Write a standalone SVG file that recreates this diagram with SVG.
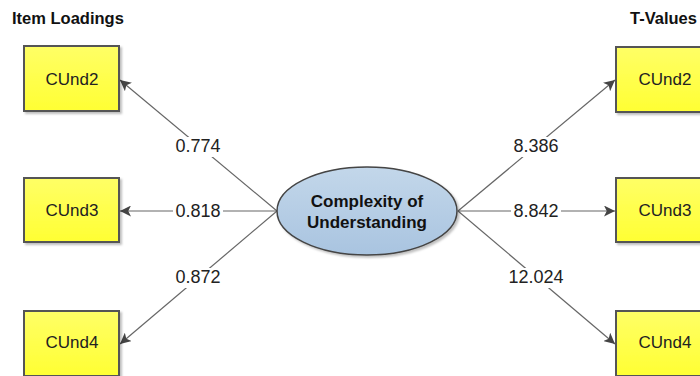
<svg xmlns="http://www.w3.org/2000/svg" width="700" height="376" viewBox="0 0 700 376">
  <defs>
    <linearGradient id="boxFill" x1="0" y1="0" x2="0" y2="1">
      <stop offset="0" stop-color="#ffff66"/>
      <stop offset="1" stop-color="#ffff33"/>
    </linearGradient>
    <linearGradient id="latentFill" x1="0" y1="0" x2="0" y2="1">
      <stop offset="0" stop-color="#c3d7ea"/>
      <stop offset="1" stop-color="#a9c4e0"/>
    </linearGradient>
    <filter id="shadow" x="-10%" y="-10%" width="130%" height="130%">
      <feDropShadow dx="2" dy="2" stdDeviation="1.2" flood-color="#000" flood-opacity="0.25"/>
    </filter>
    <marker id="arrow" viewBox="0 0 10 10" refX="10" refY="5" markerWidth="11" markerHeight="11" markerUnits="userSpaceOnUse" orient="auto">
      <path d="M0,0 L10,5 L0,10 L2.5,5 Z" fill="#444"/>
    </marker>
  </defs>
  <style>
    .title { font-family: "Liberation Sans", Arial, sans-serif; font-weight: bold; font-size: 16.5px; fill: #111; }
    .box { fill: url(#boxFill); stroke: #555; stroke-width: 2; filter: url(#shadow); }
    .boxlabel { font-family: "Liberation Sans", Arial, sans-serif; font-size: 17px; fill: #222; text-anchor: middle; }
    .latent { fill: url(#latentFill); stroke: #444; stroke-width: 1.5; filter: url(#shadow); }
    .latentlabel { font-family: "Liberation Sans", Arial, sans-serif; font-weight: bold; font-size: 17px; fill: #111; text-anchor: middle; }
    .edge { stroke: #666; stroke-width: 1.2; fill: none; marker-end: url(#arrow); }
    .edgelabel { font-family: "Liberation Sans", Arial, sans-serif; font-size: 18px; fill: #222; text-anchor: middle; }
    .labelbg { fill: #fff; }
  </style>

  <rect width="700" height="376" fill="#fff"/>

  <text class="title" x="12" y="24">Item Loadings</text>
  <text class="title" x="630" y="24">T-Values</text>

  <g id="connectors">
    <line class="edge" x1="277" y1="211" x2="120" y2="80"/>
    <line class="edge" x1="277" y1="211" x2="120" y2="211"/>
    <line class="edge" x1="277" y1="211" x2="120" y2="344"/>
    <line class="edge" x1="458" y1="211" x2="615" y2="80"/>
    <line class="edge" x1="458" y1="211" x2="615" y2="211"/>
    <line class="edge" x1="458" y1="211" x2="615" y2="344"/>

    <rect class="labelbg" x="173" y="137" width="50" height="20"/>
    <text class="edgelabel" x="198" y="152">0.774</text>
    <rect class="labelbg" x="173" y="202" width="50" height="20"/>
    <text class="edgelabel" x="198" y="217">0.818</text>
    <rect class="labelbg" x="173" y="268" width="50" height="20"/>
    <text class="edgelabel" x="198" y="283">0.872</text>

    <rect class="labelbg" x="511" y="137" width="50" height="20"/>
    <text class="edgelabel" x="536" y="152">8.386</text>
    <rect class="labelbg" x="511" y="202" width="50" height="20"/>
    <text class="edgelabel" x="536" y="217">8.842</text>
    <rect class="labelbg" x="506" y="268" width="60" height="20"/>
    <text class="edgelabel" x="536" y="283">12.024</text>
  </g>

  <g id="latent-complexity">
    <ellipse class="latent" cx="367" cy="211" rx="90" ry="44"/>
    <text class="latentlabel" x="367" y="207">Complexity of</text>
    <text class="latentlabel" x="367" y="228">Understanding</text>
  </g>

  <g id="loading-cund2">
    <rect class="box" x="24" y="46" width="95" height="65"/>
    <text class="boxlabel" x="72" y="85">CUnd2</text>
  </g>
  <g id="loading-cund3">
    <rect class="box" x="24" y="178" width="95" height="64"/>
    <text class="boxlabel" x="72" y="216">CUnd3</text>
  </g>
  <g id="loading-cund4">
    <rect class="box" x="24" y="311" width="95" height="65"/>
    <text class="boxlabel" x="72" y="348">CUnd4</text>
  </g>

  <g id="tvalue-cund2">
    <rect class="box" x="616" y="47" width="95" height="65"/>
    <text class="boxlabel" x="665" y="85">CUnd2</text>
  </g>
  <g id="tvalue-cund3">
    <rect class="box" x="616" y="178" width="95" height="64"/>
    <text class="boxlabel" x="665" y="216">CUnd3</text>
  </g>
  <g id="tvalue-cund4">
    <rect class="box" x="616" y="311" width="95" height="65"/>
    <text class="boxlabel" x="665" y="348">CUnd4</text>
  </g>
</svg>
